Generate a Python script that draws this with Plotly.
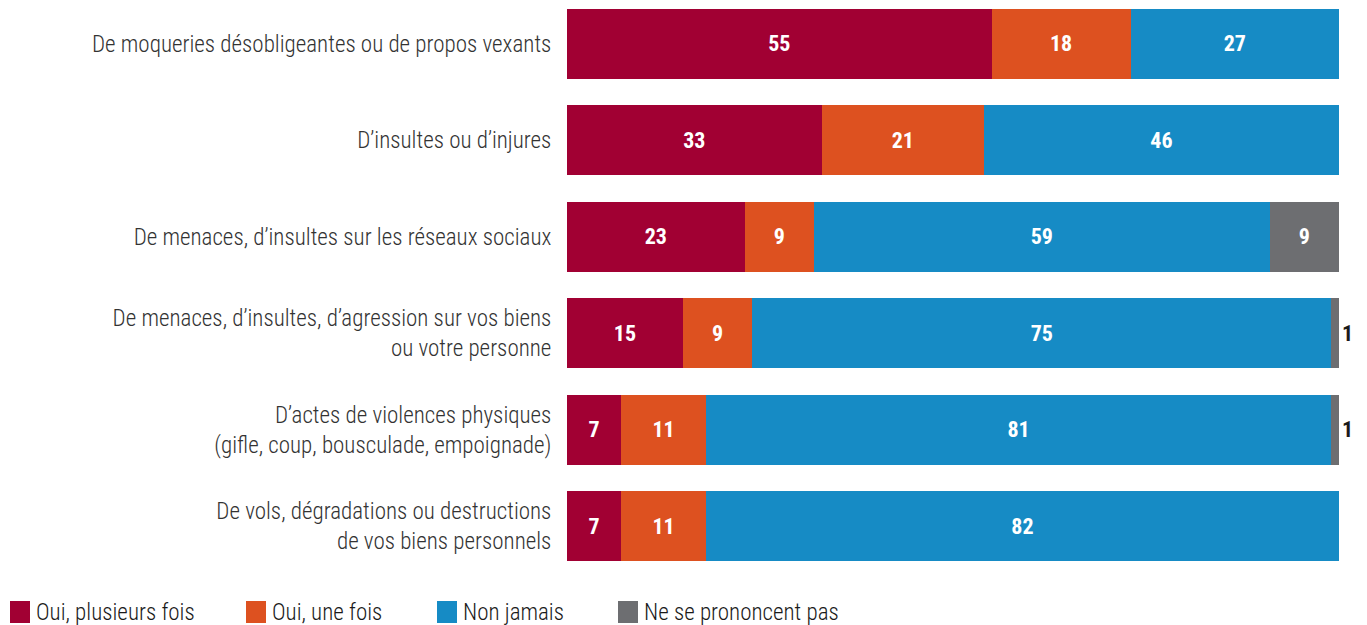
import plotly.graph_objects as go

# data
categories = [
    "De moqueries désobligeantes ou de propos vexants",
    "D’insultes ou d’injures",
    "De menaces, d’insultes sur les réseaux sociaux",
    "De menaces, d’insultes, d’agression sur vos biens<br>ou votre personne",
    "D’actes de violences physiques<br>(gifle, coup, bousculade, empoignade)",
    "De vols, dégradations ou destructions<br>de vos biens personnels",
]
series_names = ["Oui, plusieurs fois", "Oui, une fois", "Non jamais", "Ne se prononcent pas"]
plusieurs_fois = [55, 33, 23, 15, 7, 7]
une_fois = [18, 21, 9, 9, 11, 11]
non_jamais = [27, 46, 59, 75, 81, 82]
nspp = [0, 0, 9, 1, 1, 0]

colors = ["#A10033", "#DD5120", "#168BC5", "#6D6E71"]
FONT = "Roboto Condensed, Liberation Sans Narrow, Arial Narrow, Liberation Sans, sans-serif"

# plot area in pixels
L, R, T, B = 567, 1339, 9, 561
W, H = 1367, 625

fig = go.Figure()
for name, vals, col in zip(series_names, [plusieurs_fois, une_fois, non_jamais, nspp], colors):
    text = [str(v) if v > 0 else "" for v in vals]
    # small values go outside the bar, in dark text
    pos = ["outside" if 0 < v < 3 else "inside" for v in vals]
    fig.add_trace(go.Bar(
        y=categories, x=vals, name=name, orientation="h",
        marker=dict(color=col, line=dict(width=0)),
        text=text, textposition=pos, insidetextanchor="middle",
        insidetextfont=dict(color="white", size=22, family=FONT, weight="bold"),
        outsidetextfont=dict(color="#1a1a1a", size=22, family=FONT, weight="bold"),
        textangle=0, cliponaxis=False, constraintext="none",
        hoverinfo="x+name",
    ))

fig.update_layout(
    barmode="stack",
    bargap=0.275,
    width=W, height=H,
    margin=dict(l=L, r=W - R, t=T, b=H - B),
    plot_bgcolor="white", paper_bgcolor="white",
    showlegend=False,
    font=dict(family=FONT, size=22, color="#333333"),
    xaxis=dict(range=[0, 100], visible=False, fixedrange=True),
    yaxis=dict(
        autorange=False, range=[5.3625, -0.3625],
        showgrid=False, zeroline=False, showline=False,
        ticks="outside", ticklen=10, tickcolor="white",
        tickfont=dict(size=23, color="#333333", family=FONT, weight=300),
    ),
)

# custom legend along the bottom
ph, pw = B - T, R - L
legend_x = [10, 246, 437, 618]
for name, col, lx in zip(series_names, colors, legend_x):
    fig.add_shape(type="rect", xref="paper", yref="paper",
                  x0=(lx - L) / pw, x1=(lx + 20 - L) / pw,
                  y0=-(623 - B) / ph, y1=-(601 - B) / ph,
                  fillcolor=col, line=dict(width=0))
    fig.add_annotation(text=name, xref="paper", yref="paper",
                       x=(lx + 24 - L) / pw, y=-(612 - B) / ph,
                       xanchor="left", yanchor="middle", showarrow=False,
                       font=dict(size=23, color="#1a1a1a", family=FONT, weight=300))

fig.write_html(
    "out.html",
    config={"displayModeBar": False},
    post_script="document.body.style.margin='0';document.body.style.overflow='hidden';",
)
